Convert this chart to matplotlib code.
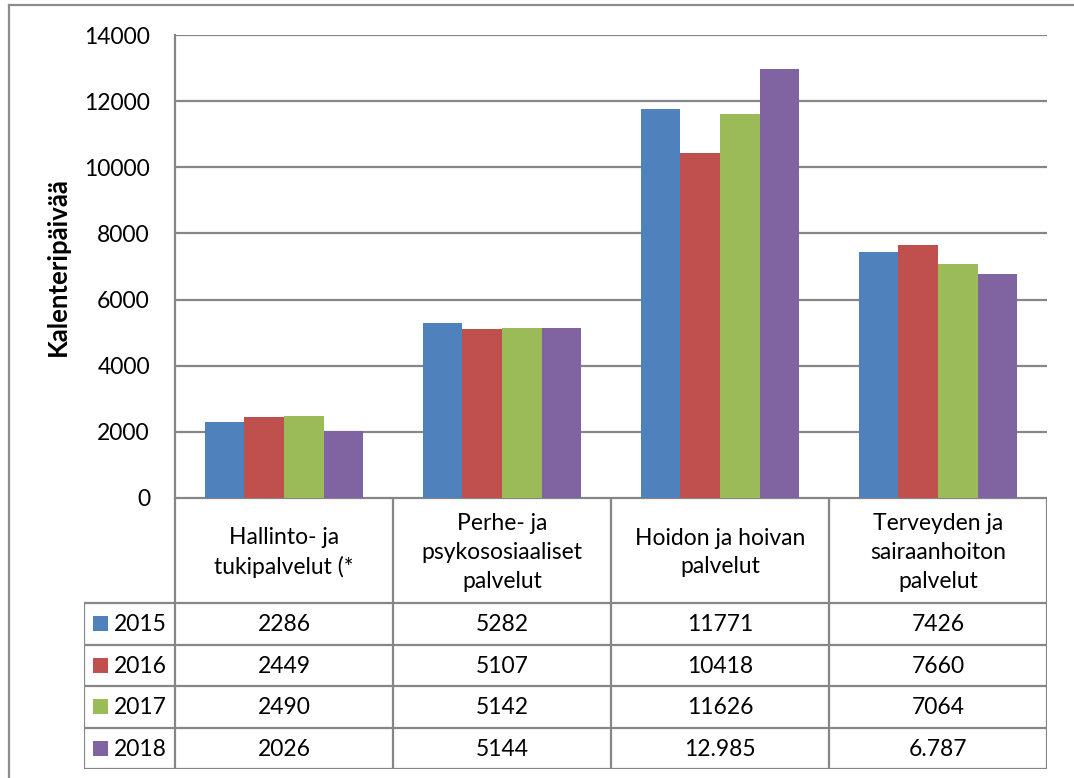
import matplotlib
matplotlib.use("Agg")
import matplotlib.pyplot as plt
import numpy as np
from matplotlib.patches import Rectangle
from matplotlib.lines import Line2D

categories = ["Hallinto- ja\ntukipalvelut (*",
              "Perhe- ja\npsykososiaaliset\npalvelut",
              "Hoidon ja hoivan\npalvelut",
              "Terveyden ja\nsairaanhoiton\npalvelut"]
years = ["2015", "2016", "2017", "2018"]
v2015 = [2286, 5282, 11771, 7426]
v2016 = [2449, 5107, 10418, 7660]
v2017 = [2490, 5142, 11626, 7064]
v2018 = [2026, 5144, 12985, 6787]
table_text = [
    ["2286", "5282", "11771", "7426"],
    ["2449", "5107", "10418", "7660"],
    ["2490", "5142", "11626", "7064"],
    ["2026", "5144", "12.985", "6.787"],
]
colors = ["#4F81BD", "#C0504D", "#9BBB59", "#8064A2"]
ylabel = "Kalenteripäivää"
yticks = [0, 2000, 4000, 6000, 8000, 10000, 12000, 14000]

FONT = "Lato"
FS = 16.5
GRID = "#868686"

W, H = 1074, 778
fig = plt.figure(figsize=(W / 100, H / 100), dpi=100)

def fx(x):
    return x / W

def fy(y):
    return 1 - y / H

# plot area
L, R, T, B = 175, 1047, 35, 498
ax = fig.add_axes([fx(L), fy(B), fx(R) - fx(L), fy(T) - fy(B)])
series = [v2015, v2016, v2017, v2018]
n = len(series)
bw = 1.0 / (n + 1.5)
xs = np.arange(len(categories))
for i, (vals, c) in enumerate(zip(series, colors)):
    ax.bar(xs + (i - (n - 1) / 2) * bw, vals, width=bw, color=c,
           edgecolor="none", zorder=3)
ax.set_xlim(-0.5, len(categories) - 0.5)
ax.set_ylim(0, 14000)
ax.set_yticks(yticks)
ax.set_yticklabels([str(t) for t in yticks], fontsize=FS, family=FONT)
ax.set_xticks([])
ax.tick_params(axis="y", length=0, pad=18)
ax.yaxis.grid(True, color=GRID, linewidth=1.6, zorder=0)
for s in ["top", "right", "bottom"]:
    ax.spines[s].set_visible(False)
ax.spines["left"].set_color(GRID)
ax.spines["left"].set_linewidth(1.6)
ax.set_ylabel(ylabel, fontsize=18.5, family=FONT, fontweight="bold", labelpad=10)

# table axes in pixel coordinates
TL, TT, TB = 84, 498, 769
tax = fig.add_axes([fx(TL), fy(TB), fx(R) - fx(TL), fy(TT) - fy(TB)])
tax.set_xlim(TL, R)
tax.set_ylim(TB, TT)
tax.axis("off")

col_edges = [L + (R - L) * k / len(categories) for k in range(len(categories) + 1)]
header_bottom = 603
row_edges = [header_bottom + (TB - header_bottom) * k / len(years) for k in range(len(years) + 1)]

lk = dict(color=GRID, linewidth=1.6, solid_capstyle="projecting")
for x in col_edges:
    tax.plot([x, x], [TT, TB], **lk)
tax.plot([L, R], [TT, TT], **lk)
for y in row_edges:
    tax.plot([TL, R], [y, y], **lk)
tax.plot([TL, TL], [header_bottom, TB], **lk)

for j, cat in enumerate(categories):
    cx = (col_edges[j] + col_edges[j + 1]) / 2
    tax.text(cx, (TT + header_bottom) / 2 + 2, cat, ha="center", va="center",
             fontsize=FS, family=FONT, linespacing=1.45)

for i, yr in enumerate(years):
    cy = (row_edges[i] + row_edges[i + 1]) / 2
    tax.add_patch(Rectangle((93, cy - 7.5), 15, 15, color=colors[i], lw=0))
    tax.text(114, cy + 1, yr, ha="left", va="center", fontsize=FS, family=FONT)
    for j in range(len(categories)):
        cx = (col_edges[j] + col_edges[j + 1]) / 2
        tax.text(cx, cy + 1, table_text[i][j], ha="center", va="center",
                 fontsize=FS, family=FONT)

# outer chart border
fig.add_artist(Line2D([fx(9), fx(W + 5)], [fy(5), fy(5)], color="#8C8C8C", lw=1.6))
fig.add_artist(Line2D([fx(9), fx(9)], [fy(5), fy(H + 5)], color="#8C8C8C", lw=1.6))

fig.savefig("out.png", dpi=100)
